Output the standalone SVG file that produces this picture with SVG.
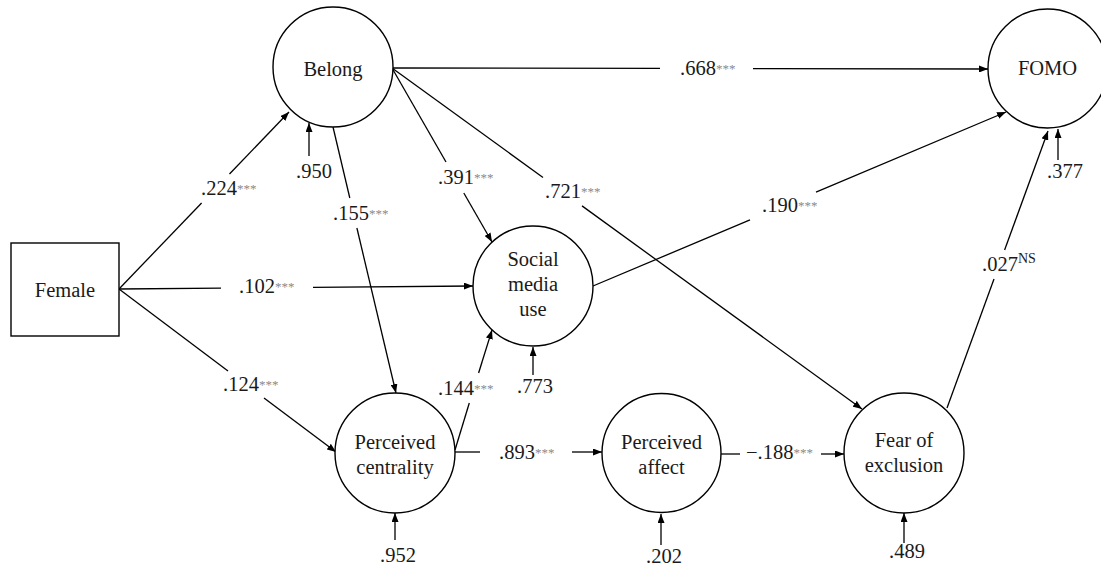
<svg xmlns="http://www.w3.org/2000/svg" width="1101" height="567" viewBox="0 0 1101 567" font-family="'Liberation Serif', 'Times New Roman', Times, serif">
<style>
  .node { fill: #fff; stroke: #000; stroke-width: 1.4; }
  text { font-family: 'Liberation Serif', 'Times New Roman', Times, serif; }
  .lbl { font-size: 20.5px; fill: #1a1a1a; text-anchor: middle; }
  .num { font-size: 20.5px; fill: #1a1a1a; }
  .st { font-size: 13px; fill: #8a8a8a; }
  .ns { font-size: 14px; fill: #1a1a1a; }
  .ln { stroke: #000; stroke-width: 1.3; fill: none; }
  .ar { stroke: #000; stroke-width: 1.3; fill: none; marker-end: url(#ah); }
</style>
<defs>
  <marker id="ah" markerUnits="userSpaceOnUse" markerWidth="9" markerHeight="7" refX="9" refY="3.5" orient="auto">
    <path d="M0,0 L9,3.5 L0,7 z" fill="#000"/>
  </marker>
</defs>
<rect width="1101" height="567" fill="#fff"/>

<g id="connectors">
  <line class="ln" x1="119" y1="289" x2="201.6" y2="203"/>
  <line class="ar" x1="229.5" y1="174" x2="289" y2="112"/>
  <line class="ln" x1="119" y1="289" x2="221" y2="288.1"/>
  <line class="ar" x1="313" y1="287.4" x2="473" y2="286"/>
  <line class="ln" x1="119" y1="289" x2="228" y2="371"/>
  <line class="ar" x1="264" y1="398" x2="336" y2="452"/>
  <line class="ln" x1="333" y1="127" x2="349.8" y2="198"/>
  <line class="ar" x1="356.9" y1="228" x2="396" y2="393"/>
  <line class="ln" x1="392" y1="68" x2="446" y2="162"/>
  <line class="ar" x1="463.8" y1="193" x2="492" y2="242"/>
  <line class="ln" x1="392" y1="68" x2="543" y2="177.5"/>
  <line class="ar" x1="582" y1="205.9" x2="862" y2="409"/>
  <line class="ln" x1="392" y1="68" x2="660" y2="68.4"/>
  <line class="ar" x1="753" y1="68.6" x2="988" y2="69"/>
  <line class="ln" x1="593" y1="286" x2="750" y2="219.9"/>
  <line class="ar" x1="816" y1="192.1" x2="1006" y2="112"/>
  <line class="ln" x1="455" y1="450" x2="469.3" y2="403"/>
  <line class="ar" x1="478.6" y1="373" x2="492" y2="330"/>
  <line class="ln" x1="455" y1="452" x2="480" y2="452"/>
  <line class="ar" x1="572" y1="452" x2="602" y2="452"/>
  <line class="ln" x1="721" y1="454" x2="740" y2="454"/>
  <line class="ar" x1="821" y1="454" x2="844" y2="454"/>
  <line class="ln" x1="947" y1="408" x2="994" y2="279"/>
  <line class="ar" x1="1004.6" y1="250" x2="1048" y2="131"/>
  <line class="ar" x1="309" y1="156" x2="309" y2="123"/>
  <line class="ar" x1="533" y1="375" x2="533" y2="347"/>
  <line class="ar" x1="395" y1="540" x2="395" y2="513"/>
  <line class="ar" x1="661" y1="545" x2="661" y2="514"/>
  <line class="ar" x1="904" y1="543" x2="904" y2="513"/>
  <line class="ar" x1="1058" y1="160" x2="1058" y2="129"/>
</g>

<g id="female">
  <rect class="node" x="11" y="243" width="108" height="93"/>
  <text class="lbl" x="65" y="297">Female</text>
</g>
<g id="belong">
  <circle class="node" cx="333" cy="67" r="60"/>
  <text class="lbl" x="333" y="76">Belong</text>
</g>
<g id="social-media-use">
  <circle class="node" cx="533" cy="286" r="60"/>
  <text class="lbl" x="533" y="266">Social</text>
  <text class="lbl" x="533" y="291">media</text>
  <text class="lbl" x="533" y="316">use</text>
</g>
<g id="perceived-centrality">
  <circle class="node" cx="395" cy="453" r="60"/>
  <text class="lbl" x="395" y="449">Perceived</text>
  <text class="lbl" x="395" y="474">centrality</text>
</g>
<g id="perceived-affect">
  <circle class="node" cx="661.5" cy="453" r="59.5"/>
  <text class="lbl" x="661.5" y="449">Perceived</text>
  <text class="lbl" x="661.5" y="474">affect</text>
</g>
<g id="fear-of-exclusion">
  <circle class="node" cx="904" cy="453" r="60"/>
  <text class="lbl" x="904" y="447">Fear of</text>
  <text class="lbl" x="904" y="472">exclusion</text>
</g>
<g id="fomo">
  <circle class="node" cx="1047.5" cy="68.5" r="59.5"/>
  <text class="lbl" x="1047.5" y="75">FOMO</text>
</g>

<g id="labels">
  <text class="num" x="201" y="195">.224<tspan class="st" dy="-2">***</tspan></text>
  <text class="num" x="239" y="293">.102<tspan class="st" dy="-2">***</tspan></text>
  <text class="num" x="223" y="391">.124<tspan class="st" dy="-2">***</tspan></text>
  <text class="num" x="333" y="220">.155<tspan class="st" dy="-2">***</tspan></text>
  <text class="num" x="438" y="184">.391<tspan class="st" dy="-2">***</tspan></text>
  <text class="num" x="545" y="198">.721<tspan class="st" dy="-2">***</tspan></text>
  <text class="num" x="680" y="75">.668<tspan class="st" dy="-2">***</tspan></text>
  <text class="num" x="762" y="212">.190<tspan class="st" dy="-2">***</tspan></text>
  <text class="num" x="438" y="395">.144<tspan class="st" dy="-2">***</tspan></text>
  <text class="num" x="499" y="459">.893<tspan class="st" dy="-2">***</tspan></text>
  <text class="num" x="746" y="459">−.188<tspan class="st" dy="-2">***</tspan></text>
  <text class="num" x="982" y="271">.027<tspan class="ns" dy="-8">NS</tspan></text>
  <text class="num" x="296" y="178">.950</text>
  <text class="num" x="517" y="393">.773</text>
  <text class="num" x="380" y="562">.952</text>
  <text class="num" x="646" y="563">.202</text>
  <text class="num" x="889" y="558">.489</text>
  <text class="num" x="1047" y="178">.377</text>
</g>
</svg>
